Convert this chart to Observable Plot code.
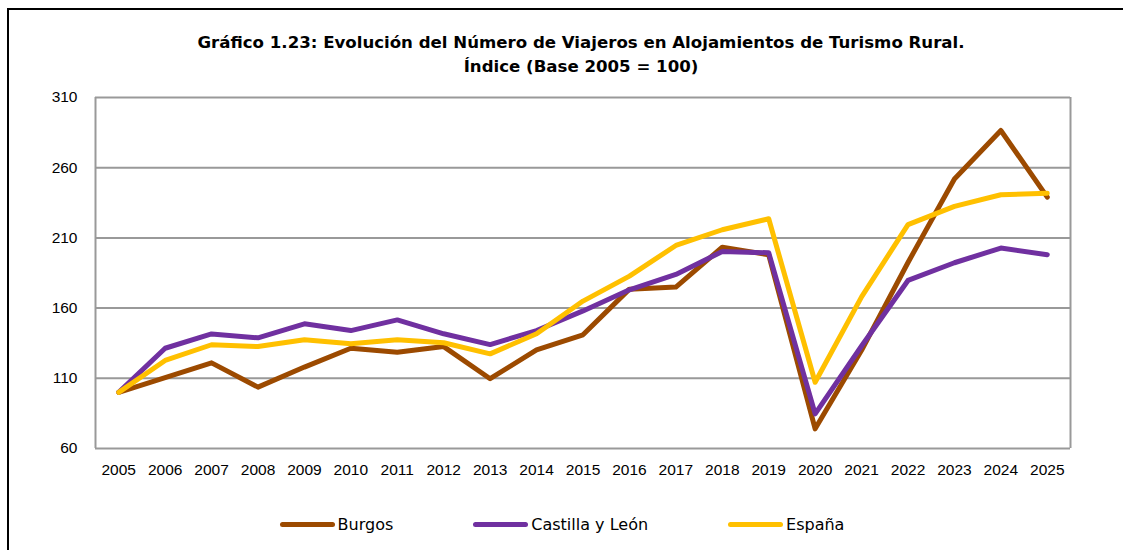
<!DOCTYPE html>
<html><head><meta charset="utf-8">
<script src="https://cdn.jsdelivr.net/npm/d3@7"></script>
<script src="https://cdn.jsdelivr.net/npm/@observablehq/plot@0.6"></script>
<style>
body{margin:0;background:#fff;width:1123px;height:550px;overflow:hidden;position:relative;font-family:"DejaVu Sans",sans-serif}
#border{position:absolute;left:7px;top:8px;width:1200px;height:600px;border:2px solid #000;box-sizing:border-box}
#title{position:absolute;left:0;width:1162px;top:31px;text-align:center;font-weight:bold;font-size:16.6px;line-height:24px;color:#000}
#chart{position:absolute;left:0;top:0}
#legend{position:absolute;top:512px;left:0;width:1124px;display:flex;justify-content:center;gap:80px;font-size:16px;color:#000}
.item{display:flex;align-items:center;gap:3px;height:24px}
.swatch{width:55px;height:5px;border-radius:3px}
</style>
</head><body>
<div id="border"></div>
<div id="title">Gráfico 1.23: Evolución del Número de Viajeros en Alojamientos de Turismo Rural.<br>Índice (Base 2005 = 100)</div>
<div id="chart"></div>
<div id="legend"></div>
<script>
const years = [2005,2006,2007,2008,2009,2010,2011,2012,2013,2014,2015,2016,2017,2018,2019,2020,2021,2022,2023,2024,2025];
const burgos   = [100,110.5,121,103.7,118,131.4,128.6,132.6,109.7,130.3,141,173.5,175,203.4,198,74,130,192.5,252,286.5,239];
const castilla = [100,131.4,141.6,138.8,148.8,144,151.6,141.7,134,144,158,173,184,200.3,199.4,84.7,133,179.7,192.3,202.8,198];
const espana   = [100,122.7,133.9,132.6,137.4,134.6,137.4,135.3,127.4,141.7,165,182.8,204.6,215.8,223.6,107.2,168,219.5,232.4,240.7,241.8];
const seriesNames = ["Burgos","Castilla y León","España"];
const seriesColors = ["#9C4A00","#7030A0","#FFC000"];
const yTicks = [60,110,160,210,260,310];

const allSeries = [burgos, castilla, espana];
const rows = [];
allSeries.forEach((vals, i) => vals.forEach((v, j) => rows.push({serie: seriesNames[i], year: years[j], value: v})));

const chart = Plot.plot({
  width: 1123,
  height: 490,
  marginTop: 97,
  marginBottom: 42,
  marginLeft: 95,
  marginRight: 53,
  style: {fontFamily: "'Liberation Sans', Arial, sans-serif", fontSize: "15.5px", color: "#000", background: "transparent", overflow: "visible"},
  x: {domain: [years[0] - 0.5, years[years.length - 1] + 0.5], ticks: years, tickFormat: "d", tickSize: 0, tickPadding: 15, label: null},
  y: {domain: [yTicks[0], yTicks[yTicks.length - 1]], ticks: yTicks, tickSize: 0, tickPadding: 18, label: null},
  color: {domain: seriesNames, range: seriesColors},
  marks: [
    Plot.ruleY(yTicks, {stroke: "#999", strokeWidth: 2}),
    Plot.ruleX([years[0] - 0.5, years[years.length - 1] + 0.5], {stroke: "#999", strokeWidth: 2}),
    Plot.axisX({ticks: years, tickFormat: "d", tickSize: 0, tickPadding: 15, fontSize: 15.5}),
    Plot.axisY({ticks: yTicks, tickSize: 0, tickPadding: 18, fontSize: 15.5}),
    Plot.line(rows, {x: "year", y: "value", z: "serie", stroke: "serie", strokeWidth: 5, strokeLinecap: "round", strokeLinejoin: "round"})
  ]
});
document.getElementById("chart").appendChild(chart);

const legend = document.getElementById("legend");
seriesNames.forEach((n, i) => {
  const it = document.createElement("div");
  it.className = "item";
  const sw = document.createElement("div");
  sw.className = "swatch";
  sw.style.background = seriesColors[i];
  const tx = document.createElement("span");
  tx.textContent = n;
  it.appendChild(sw); it.appendChild(tx);
  legend.appendChild(it);
});
</script>
</body></html>
